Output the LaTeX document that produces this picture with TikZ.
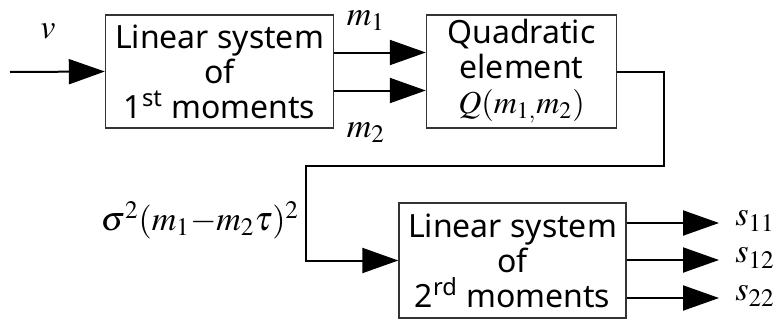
\documentclass[tikz,border=0pt]{standalone}
\usepackage{amsmath,amssymb}
\usepackage{mathptmx}
\usepackage{fontspec}
\setsansfont{Noto Sans}
\usepackage{tikz}
\usetikzlibrary{arrows.meta,positioning}

\begin{document}
\begin{tikzpicture}[
  x=0.5pt, y=-0.5pt,
  block/.style={rectangle, draw=black!80, line width=0.7pt, align=center,
    font=\sffamily\fontsize{16}{17.5}\selectfont, inner sep=0pt},
  flow/.style={draw, line width=1pt, -{Triangle[length=18pt, width=12.5pt]}},
  lbl/.style={font=\fontsize{17}{19}\selectfont, inner sep=0pt}
]
\useasboundingbox (0,0) rectangle (774,322);

% blocks
\node[block, minimum width=114pt, minimum height=56.5pt] (lin1) at (219.5,71.5)
  {Linear system\\of\\1\textsuperscript{st} moments};
\node[block, minimum width=95pt, minimum height=56.5pt] (quad) at (521.5,71.5)
  {Quadratic\\element\\$Q(m_{1,}m_2)$};
\node[block, minimum width=113.5pt, minimum height=57.5pt] (lin2) at (512.5,260.5)
  {Linear system\\of\\2\textsuperscript{rd} moments};

% corners and free ends
\coordinate (in) at (10,72);
\coordinate (c1) at (664,166);
\coordinate (c2) at (306,166);
\coordinate (s11) at (719,223);
\coordinate (s12) at (719,260);
\coordinate (s22) at (719,298);

% connectors
\draw[flow] (in) -- (lin1.west);
\draw[flow] ([yshift=9.5pt]lin1.east) -- ([yshift=9.5pt]quad.west);
\draw[flow] ([yshift=-9.5pt]lin1.east) -- ([yshift=-9.5pt]quad.west);
\draw[flow] (quad.east) -| (c1) -- (c2) |- (lin2.west);
\foreach \s in {s11,s12,s22}
  \draw[flow] (lin2.east |- \s) -- (\s);

% labels
\node[lbl] (v) at (48,31) {$v$};
\node[lbl] (m1) at (366,21) {$m_1$};
\node[lbl] (m2) at (366,133) {$m_2$};
\node[lbl] (sig) at (200,220) {$\sigma^2(m_1{-}m_2\tau)^2$};
\node[lbl, anchor=west] (l11) at (735,221) {$s_{11}$};
\node[lbl, anchor=west] (l12) at (735,258) {$s_{12}$};
\node[lbl, anchor=west] (l22) at (735,296) {$s_{22}$};
\end{tikzpicture}
\end{document}
